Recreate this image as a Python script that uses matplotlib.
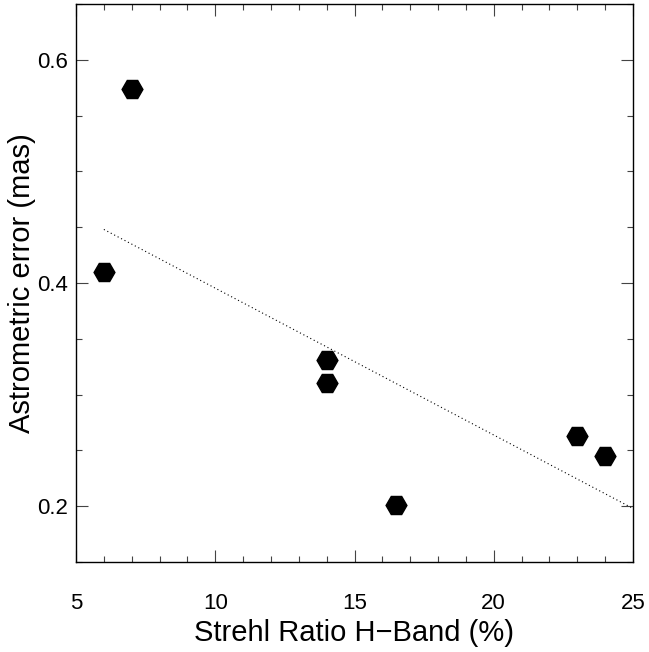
import matplotlib
matplotlib.use('Agg')
import matplotlib.pyplot as plt
from matplotlib.ticker import MultipleLocator

plt.rcParams['font.family'] = ['Liberation Sans', 'DejaVu Sans']

strehl = [7, 6, 14, 14, 16.5, 23, 24]
ast_err = [0.574, 0.410, 0.331, 0.310, 0.201, 0.263, 0.245]

fit_x = [6, 25]
fit_y = [0.448, 0.198]

fig = plt.figure(figsize=(6.49, 6.52), dpi=100)
ax = fig.add_axes([76/649, 90/652, (633-76)/649, (562-4)/652])

ax.plot(fit_x, fit_y, linestyle=(0, (1, 2.5)), color='black', lw=0.8)
ax.plot(strehl, ast_err, linestyle='none', marker='H', markersize=15,
        color='black')

ax.set_xlim(5, 25)
ax.set_ylim(0.15, 0.65)
ax.xaxis.set_major_locator(MultipleLocator(5))
ax.xaxis.set_minor_locator(MultipleLocator(1))
ax.yaxis.set_minor_locator(MultipleLocator(0.05))
ax.set_yticks([0.2, 0.4, 0.6])
ax.set_yticklabels(['0.2', '0.4', '0.6'])

ax.tick_params(which='both', direction='in', top=True, right=True,
               labelsize=16, width=0.8, color='#444444')
ax.tick_params(which='major', length=8.5)
ax.tick_params(which='minor', length=4.5)
ax.tick_params(axis='x', which='both', pad=22)
ax.tick_params(axis='y', which='both', pad=5.5)
for s in ax.spines.values():
    s.set_linewidth(1.0)

ax.set_xlabel('Strehl Ratio H\u2212Band (%)', fontsize=21, labelpad=4)
ax.set_ylabel('Astrometric error (mas)', fontsize=21, labelpad=1)

fig.savefig('out.png', dpi=100)
